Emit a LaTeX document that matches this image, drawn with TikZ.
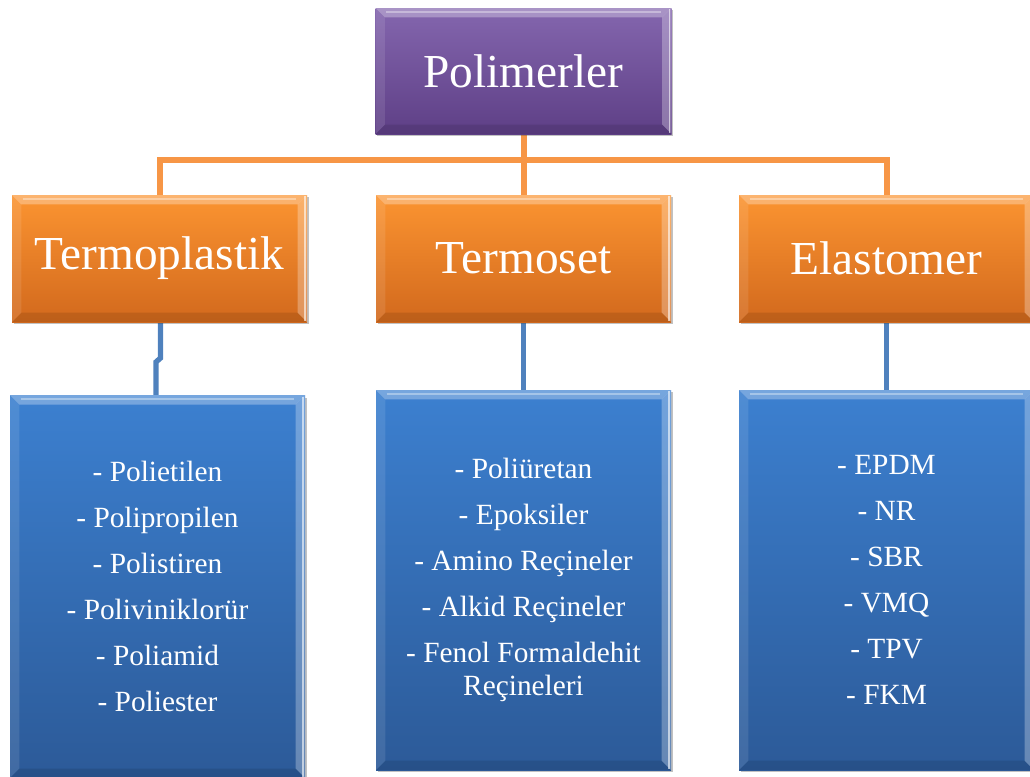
\documentclass[tikz,border=0pt]{standalone}
\usepackage{fontspec}
\setmainfont{Liberation Serif}
\usetikzlibrary{backgrounds,shadows}
\definecolor{purpT}{HTML}{8466AE}
\definecolor{purpB}{HTML}{5E3F86}
\definecolor{oraT}{HTML}{FB9431}
\definecolor{oraB}{HTML}{D2691D}
\definecolor{bluT}{HTML}{3C80D0}
\definecolor{bluB}{HTML}{2C5A98}
\definecolor{oline}{HTML}{F79646}
\definecolor{bline}{HTML}{4F81BD}
\tikzset{
  bevelbox/.style 2 args={rectangle, draw=none, inner sep=0pt, text=white,
    top color=#1, bottom color=#2,
    drop shadow={shadow xshift=1.2pt, shadow yshift=-1.8pt, opacity=0.35, fill=black!70},
    path picture={
      \fill[white, opacity=0.30] (path picture bounding box.north west) -- (path picture bounding box.north east)
        -- ([shift={(-7pt,-7pt)}]path picture bounding box.north east) -- ([shift={(7pt,-7pt)}]path picture bounding box.north west) -- cycle;
      \fill[white, opacity=0.10] (path picture bounding box.north west) -- ([shift={(7pt,-7pt)}]path picture bounding box.north west)
        -- ([shift={(7pt,7pt)}]path picture bounding box.south west) -- (path picture bounding box.south west) -- cycle;
      \fill[white, opacity=0.28] (path picture bounding box.north east) -- ([shift={(-7pt,-7pt)}]path picture bounding box.north east)
        -- ([shift={(-7pt,7pt)}]path picture bounding box.south east) -- (path picture bounding box.south east) -- cycle;
      \fill[black, opacity=0.10] (path picture bounding box.south west) -- ([shift={(7pt,7pt)}]path picture bounding box.south west)
        -- ([shift={(-7pt,7pt)}]path picture bounding box.south east) -- (path picture bounding box.south east) -- cycle;
      \draw[white, opacity=0.6, line width=1.2pt] ([shift={(-1.5pt,-1pt)}]path picture bounding box.north east) -- ([shift={(-1.5pt,1pt)}]path picture bounding box.south east);
      \draw[white, opacity=0.35, line width=1.5pt] ([shift={(8pt,-3pt)}]path picture bounding box.north west) -- ([shift={(-8pt,-3pt)}]path picture bounding box.north east);
    }},
  topbox/.style={bevelbox={purpT}{purpB}, minimum width=222pt, minimum height=94.5pt,
    font=\fontsize{35.5}{42}\selectfont},
  midbox/.style={bevelbox={oraT}{oraB}, minimum width=221.25pt, minimum height=95.25pt,
    font=\fontsize{35.5}{42}\selectfont},
  lowbox/.style={bevelbox={bluT}{bluB}, minimum width=221.25pt, minimum height=285pt,
    align=center, font=\fontsize{22}{34.5}\selectfont},
  olink/.style={draw=oline, line width=4.5pt},
  blink/.style={draw=bline, line width=4pt},
}
\begin{document}
\begin{tikzpicture}[x=0.75pt, y=-0.75pt]
\useasboundingbox (0,0) rectangle (1030,776);
\node[topbox] (P) at (523.5,71) {Polimerler};
\node[midbox] (tp) at (159.5,258.5) {Termoplastik};
\node[midbox] (ts) at (523.5,258.5) {Termoset};
\node[midbox] (el) at (886.5,258.5) {Elastomer};
\node[lowbox, minimum height=287pt] (btp) at (157.5,586.5) {- Polietilen\\- Polipropilen\\- Polistiren\\- Poliviniklorür\\- Poliamid\\- Poliester};
\node[lowbox] (bts) at (523.5,580) {- Poliüretan\\- Epoksiler\\- Amino Reçineler\\- Alkid Reçineler\\- Fenol Formaldehit\\[-9.75pt]Reçineleri};
\node[lowbox] (bel) at (886.5,580) {- EPDM\\- NR\\- SBR\\- VMQ\\- TPV\\- FKM};
\coordinate (bus) at (523.5,160);
\coordinate (jogA) at (160.5,358);
\coordinate (jogB) at (156,362);
\begin{pgfonlayer}{background}
\draw[olink] (P.south) -- (bus);
\draw[olink] (tp.north) -- (tp.north |- bus) -- (el.north |- bus) -- (el.north);
\draw[olink] (bus) -- (ts.north);
\draw[blink] (tp.south -| jogA) -- (jogA) -- (jogB) -- (jogB |- btp.north);
\draw[blink] (ts.south) -- (bts.north);
\draw[blink] (el.south) -- (bel.north);
\end{pgfonlayer}
\end{tikzpicture}
\end{document}
